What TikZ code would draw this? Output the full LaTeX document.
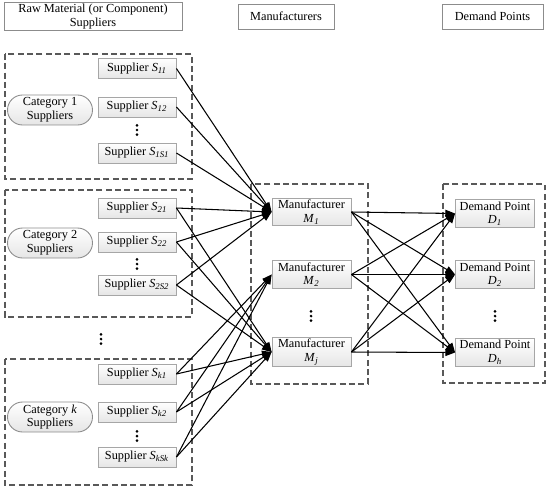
\documentclass[tikz,border=0pt]{standalone}
\usepackage{fontspec}
\setmainfont{Liberation Serif}
\usetikzlibrary{arrows.meta}

\begin{document}
\begin{tikzpicture}[
  x=0.02cm, y=-0.02cm,
  font=\fontsize{7}{7.8}\selectfont,
  intestazione/.style={draw=black!45, line width=0.5pt, inner sep=1pt, align=center},
  gruppo/.style={draw=black!65, line width=0.7pt, dash pattern=on 3.4pt off 1.9pt},
  fornitore/.style={draw=black!35, line width=0.5pt, top color=white, bottom color=black!10,
    minimum width=1.56cm, minimum height=0.4cm, inner sep=1pt},
  categoria/.style={draw=black!45, line width=0.5pt, top color=white, bottom color=black!10,
    rounded corners=0.3cm, minimum width=1.7cm, minimum height=0.6cm, inner sep=1pt, align=center},
  nodo/.style={draw=black!35, line width=0.5pt, top color=white, bottom color=black!10,
    minimum width=1.58cm, minimum height=0.52cm, inner sep=1pt, align=center},
  puntini/.style={inner sep=0pt, minimum width=4pt, minimum height=7.5pt,
    path picture={
      \fill ([yshift=2.6pt]path picture bounding box.center) circle (0.85pt);
      \fill (path picture bounding box.center) circle (0.85pt);
      \fill ([yshift=-2.6pt]path picture bounding box.center) circle (0.85pt);
    }},
  freccia/.style={draw=black, line width=0.6pt, -{Triangle[length=5.5pt, width=4pt]}}
]
\useasboundingbox (0,0) rectangle (550,490);

%--------------------------------------------------------------
% Intestazioni delle colonne
%--------------------------------------------------------------
\node[intestazione, minimum width=3.56cm, minimum height=0.5cm] (titFor) at (93,16.5)
  {Raw Material (or Component)\\Suppliers};
\node[intestazione, minimum width=1.92cm, minimum height=0.5cm] (titProd) at (286,16.5)
  {Manufacturers};
\node[intestazione, minimum width=2.02cm, minimum height=0.5cm] (titDom) at (492.5,16.5)
  {Demand Points};

%--------------------------------------------------------------
% Riquadri tratteggiati
%--------------------------------------------------------------
\draw[gruppo] (5,54) rectangle (192,179);
\draw[gruppo] (5,190) rectangle (192,317);
\draw[gruppo] (5,359) rectangle (192,485);
\draw[gruppo] (251,184) rectangle (368,384);
\draw[gruppo] (443,184) rectangle (545,383);

%--------------------------------------------------------------
% Fornitori di categoria 1
%--------------------------------------------------------------
\node[categoria] (cat1) at (50,110) {Category 1\\Suppliers};
\node[fornitore] (s11) at (137,68.5) {Supplier \textit{S}\textsubscript{\textit{11}}};
\node[fornitore] (s12) at (137,107) {Supplier \textit{S}\textsubscript{\textit{12}}};
\node[puntini] (pc1) at (137,130) {};
\node[fornitore] (s1n) at (137,153) {Supplier \textit{S}\textsubscript{\textit{1S1}}};

%--------------------------------------------------------------
% Fornitori di categoria 2
%--------------------------------------------------------------
\node[categoria] (cat2) at (50,243) {Category 2\\Suppliers};
\node[fornitore] (s21) at (137,208) {Supplier \textit{S}\textsubscript{\textit{21}}};
\node[fornitore] (s22) at (137,242) {Supplier \textit{S}\textsubscript{\textit{22}}};
\node[puntini] (pc2) at (137,264) {};
\node[fornitore] (s2n) at (137,285) {Supplier \textit{S}\textsubscript{\textit{2S2}}};

% categorie intermedie
\node[puntini] (pcat) at (101,339) {};

%--------------------------------------------------------------
% Fornitori di categoria k
%--------------------------------------------------------------
\node[categoria] (catk) at (50,417) {Category \textit{k}\\Suppliers};
\node[fornitore] (sk1) at (137,374) {Supplier \textit{S}\textsubscript{\textit{k1}}};
\node[fornitore] (sk2) at (137,412) {Supplier \textit{S}\textsubscript{\textit{k2}}};
\node[puntini] (pck) at (137,436) {};
\node[fornitore] (skn) at (137,457) {Supplier \textit{S}\textsubscript{\textit{kSk}}};

%--------------------------------------------------------------
% Produttori e punti di domanda
%--------------------------------------------------------------
\node[nodo] (m1) at (311.5,212) {Manufacturer\\\textit{M}\textsubscript{\textit{1}}};
\node[nodo] (m2) at (311.5,274.5) {Manufacturer\\\textit{M}\textsubscript{\textit{2}}};
\node[puntini] (pm) at (311,316) {};
\node[nodo] (mj) at (311.5,352) {Manufacturer\\\textit{M}\textsubscript{\textit{j}}};

\node[nodo] (d1) at (495,213.5) {Demand Point\\\textit{D}\textsubscript{\textit{1}}};
\node[nodo] (d2) at (495,274.5) {Demand Point\\\textit{D}\textsubscript{\textit{2}}};
\node[puntini] (pd) at (495,316) {};
\node[nodo] (dh) at (495,352.5) {Demand Point\\\textit{D}\textsubscript{\textit{h}}};

%--------------------------------------------------------------
% Flussi fornitori -> produttori
%--------------------------------------------------------------
\draw[freccia] (s11.east) -- (m1.west);
\draw[freccia] (s12.east) -- (m1.west);
\draw[freccia] (s1n.east) -- (m1.west);

\draw[freccia] (s21.east) -- (m1.west);
\draw[freccia] (s22.east) -- (m1.west);
\draw[freccia] (s2n.east) -- (m1.west);
\draw[freccia] (s21.east) -- (mj.west);
\draw[freccia] (s22.east) -- (mj.west);
\draw[freccia] (s2n.east) -- (mj.west);

\draw[freccia] (sk1.east) -- (m2.west);
\draw[freccia] (sk2.east) -- (m2.west);
\draw[freccia] (skn.east) -- (m2.west);
\draw[freccia] (sk1.east) -- (mj.west);
\draw[freccia] (sk2.east) -- (mj.west);
\draw[freccia] (skn.east) -- (mj.west);

%--------------------------------------------------------------
% Flussi produttori -> punti di domanda
%--------------------------------------------------------------
\draw[freccia] (m1.east) -- (d1.west);
\draw[freccia] (m1.east) -- (d2.west);
\draw[freccia] (m1.east) -- (dh.west);
\draw[freccia] (m2.east) -- (d1.west);
\draw[freccia] (m2.east) -- (d2.west);
\draw[freccia] (m2.east) -- (dh.west);
\draw[freccia] (mj.east) -- (d1.west);
\draw[freccia] (mj.east) -- (d2.west);
\draw[freccia] (mj.east) -- (dh.west);

\end{tikzpicture}
\end{document}
